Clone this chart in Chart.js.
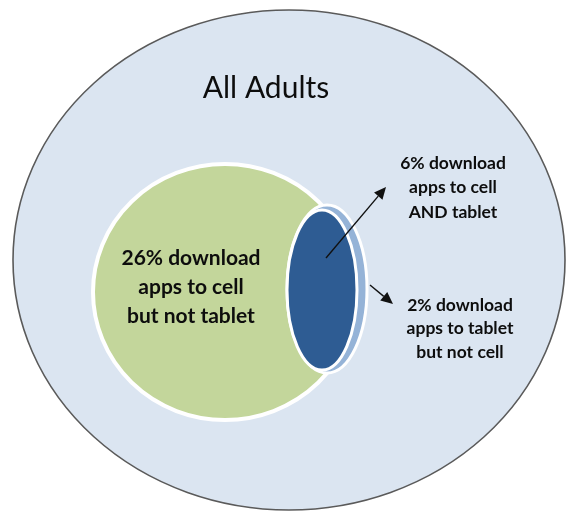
<!DOCTYPE html>
<html>
<head>
<meta charset="utf-8">
<script src="https://cdn.jsdelivr.net/npm/chart.js@4"></script>
<style>
  body { margin: 0; background: #fff; }
  #venn { display: block; }
</style>
</head>
<body>
<canvas id="venn" width="566" height="511"></canvas>
<script>
// data
const groups = ["cell only", "cell and tablet", "tablet only"];
const shares = [26, 6, 2];
const groupLabels = [
  ["download", "apps to cell", "but not tablet"],
  ["download", "apps to cell", "AND tablet"],
  ["download", "apps to tablet", "but not cell"]
];
const title = "All Adults";

// layout in chart units (the axes span the canvas 1:1)
const outer = { x: 289, y: 260, rx: 276, ry: 250 };
const cellCircle = { x: 225, y: 292, rx: 132, ry: 128 };
const tabletOnly = { x: 327, y: 289, rx: 40, ry: 84 };
const both = { x: 322, y: 290, rx: 35, ry: 80 };
const titleAnchor = [266, 88, 30];
const labelAnchors = [[191, 258, 29, 21], [453, 163, 24.5, 17.5], [460, 305, 23.5, 17.5]];
const arrows = [[326, 258, 386, 187], [370, 285, 393, 304]];

const ctxEl = document.getElementById("venn");

function ellipse(ctx, chart, e, fill, stroke, width) {
  const xs = chart.scales.x, ys = chart.scales.y;
  const cx = xs.getPixelForValue(e.x), cy = ys.getPixelForValue(e.y);
  const rx = Math.abs(xs.getPixelForValue(e.x + e.rx) - cx);
  const ry = Math.abs(ys.getPixelForValue(e.y + e.ry) - cy);
  ctx.beginPath();
  ctx.ellipse(cx, cy, rx, ry, 0, 0, Math.PI * 2);
  ctx.fillStyle = fill;
  ctx.fill();
  if (stroke) {
    ctx.lineWidth = width;
    ctx.strokeStyle = stroke;
    ctx.stroke();
  }
}

function arrow(ctx, chart, a) {
  const xs = chart.scales.x, ys = chart.scales.y;
  const x1 = xs.getPixelForValue(a[0]), y1 = ys.getPixelForValue(a[1]);
  const x2 = xs.getPixelForValue(a[2]), y2 = ys.getPixelForValue(a[3]);
  const ang = Math.atan2(y2 - y1, x2 - x1);
  const len = 12, half = 5.5;
  const bx = x2 - Math.cos(ang) * len, by = y2 - Math.sin(ang) * len;
  ctx.strokeStyle = "#111";
  ctx.fillStyle = "#111";
  ctx.lineWidth = 1.4;
  ctx.beginPath();
  ctx.moveTo(x1, y1);
  ctx.lineTo(bx, by);
  ctx.stroke();
  ctx.beginPath();
  ctx.moveTo(x2, y2);
  ctx.lineTo(bx + Math.sin(ang) * half, by - Math.cos(ang) * half);
  ctx.lineTo(bx - Math.sin(ang) * half, by + Math.cos(ang) * half);
  ctx.closePath();
  ctx.fill();
}

const vennPlugin = {
  id: "venn",
  beforeDatasetsDraw(chart) {
    const ctx = chart.ctx;
    ctx.save();
    ellipse(ctx, chart, outer, "#dbe5f1", "#5a5a5a", 1.6);
    ellipse(ctx, chart, cellCircle, "#c3d69b", "#ffffff", 4);
    ellipse(ctx, chart, tabletOnly, "#95b3d7", "#ffffff", 3);
    ellipse(ctx, chart, both, "#2e5c93", "#ffffff", 3);
    arrows.forEach(a => arrow(ctx, chart, a));

    const xs = chart.scales.x, ys = chart.scales.y;
    ctx.textAlign = "center";
    ctx.textBaseline = "middle";
    ctx.fillStyle = "#0d0d0d";
    ctx.font = titleAnchor[2] + "px Lato";
    ctx.fillText(title, xs.getPixelForValue(titleAnchor[0]), ys.getPixelForValue(titleAnchor[1]));

    groups.forEach((g, i) => {
      const [ax, ay, lh, size] = labelAnchors[i];
      const lines = groupLabels[i].slice();
      lines[0] = shares[i] + "% " + lines[0];
      ctx.font = "bold " + size + "px Lato";
      lines.forEach((line, j) => {
        ctx.fillText(line, xs.getPixelForValue(ax), ys.getPixelForValue(ay + j * lh));
      });
    });
    ctx.restore();
  }
};

new Chart(ctxEl, {
  type: "scatter",
  data: {
    datasets: [{
      label: "Share of adults",
      data: groups.map((g, i) => ({ x: labelAnchors[i][0], y: labelAnchors[i][1], v: shares[i] })),
      pointRadius: 0,
      showLine: false
    }]
  },
  options: {
    responsive: false,
    animation: false,
    layout: { padding: 0 },
    scales: {
      x: { type: "linear", min: 0, max: 566, display: false },
      y: { type: "linear", min: 0, max: 511, reverse: true, display: false }
    },
    plugins: {
      legend: { display: false },
      tooltip: { enabled: false }
    }
  },
  plugins: [vennPlugin]
});
</script>
</body>
</html>
